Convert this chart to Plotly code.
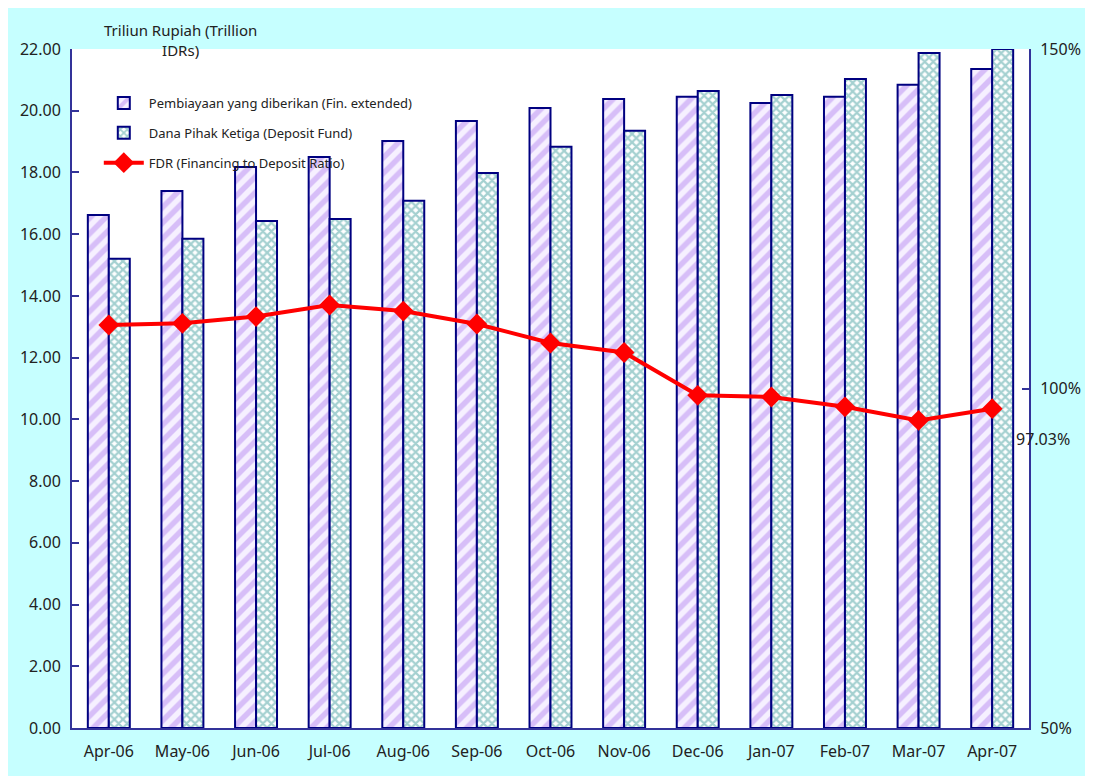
import plotly.graph_objects as go

months = ["Apr-06", "May-06", "Jun-06", "Jul-06", "Aug-06", "Sep-06", "Oct-06",
          "Nov-06", "Dec-06", "Jan-07", "Feb-07", "Mar-07", "Apr-07"]
financing = [16.62, 17.40, 18.18, 18.50, 19.02, 19.67, 20.09, 20.38, 20.45, 20.25, 20.45, 20.84, 21.35]
deposit = [15.20, 15.85, 16.43, 16.49, 17.08, 17.98, 18.83, 19.35, 20.64, 20.51, 21.03, 21.87, 22.00]
fdr = [109.35, 109.6, 110.6, 112.3, 111.4, 109.5, 106.7, 105.3, 99.0, 98.75, 97.3, 95.3, 97.03]
left_ticks = [0, 2, 4, 6, 8, 10, 12, 14, 16, 18, 20, 22]
right_ticks = [50, 100, 150]
right_labels = ["50%", "100%", "150%"]

FONT = "Noto Sans"
TXT = "#222222"
AX = "#333399"

fig = go.Figure()
fig.add_trace(go.Bar(
    x=months, y=financing, name="Pembiayaan yang diberikan (Fin. extended)",
    legendgroup="a",
    marker=dict(color="#f6f0ff", line=dict(color="#000080", width=2),
                pattern=dict(shape="/", fgcolor="#b88cf2", bgcolor="#f6f0ff", size=11, solidity=0.5)),
))
fig.add_trace(go.Bar(
    x=months, y=deposit, name="Dana Pihak Ketiga (Deposit Fund)",
    legendgroup="b",
    marker=dict(color="white", line=dict(color="#000080", width=2),
                pattern=dict(shape="x", fgcolor="#4aa2a2", bgcolor="white", size=6, solidity=0.6)),
))
fig.add_trace(go.Scatter(
    x=months, y=fdr, name="FDR (Financing to Deposit Ratio)", yaxis="y2",
    legendgroup="c",
    mode="lines+markers", line=dict(color="#ff0000", width=4),
    marker=dict(symbol="diamond", size=16, color="#ff0000"),
))

fig.add_annotation(x=months[-1], y=fdr[-1], yref="y2", text="97.03%", showarrow=False,
                   xanchor="left", yanchor="middle", xshift=22, yshift=-30,
                   font=dict(family=FONT, size=16, color=TXT))
fig.add_annotation(x=0.113, y=1.013, xref="paper", yref="paper",
                   text="Triliun Rupiah (Trillion<br>IDRs)", showarrow=False,
                   xanchor="center", yanchor="middle", align="center",
                   font=dict(family=FONT, size=15, color=TXT))

fig.update_layout(
    width=1085, height=768,
    margin=dict(l=62, r=64, t=41, b=48),
    paper_bgcolor="#c6ffff", plot_bgcolor="white",
    barmode="group", bargap=0.43, bargroupgap=0,
    font=dict(family=FONT, size=16, color=TXT),
    showlegend=True,
    legend=dict(x=0.028, y=0.9426, xanchor="left", yanchor="top",
                bgcolor="rgba(0,0,0,0)", borderwidth=0, itemwidth=40,
                font=dict(family=FONT, size=13, color=TXT),
                tracegroupgap=10, traceorder="grouped"),
    xaxis=dict(type="category", range=[-0.5, 12.5], showline=True, linecolor=AX, linewidth=2,
               ticks="", showgrid=False, tickfont=dict(size=16), ticklabelstandoff=8),
    yaxis=dict(range=[0, 22], tickvals=left_ticks, tickformat=".2f",
               showline=True, linecolor=AX, linewidth=2, ticks="inside",
               ticklen=7, tickcolor=AX, tickwidth=2, showgrid=False, zeroline=False,
               tickfont=dict(size=16), ticklabelstandoff=6),
    yaxis2=dict(range=[50, 150], tickvals=right_ticks, ticktext=right_labels, overlaying="y",
                side="right", showline=True, linecolor=AX, linewidth=2, ticks="inside",
                ticklen=7, tickcolor=AX, tickwidth=2, showgrid=False, zeroline=False,
                tickfont=dict(size=16), ticklabelstandoff=6),
)

fig.write_html("out.html")
